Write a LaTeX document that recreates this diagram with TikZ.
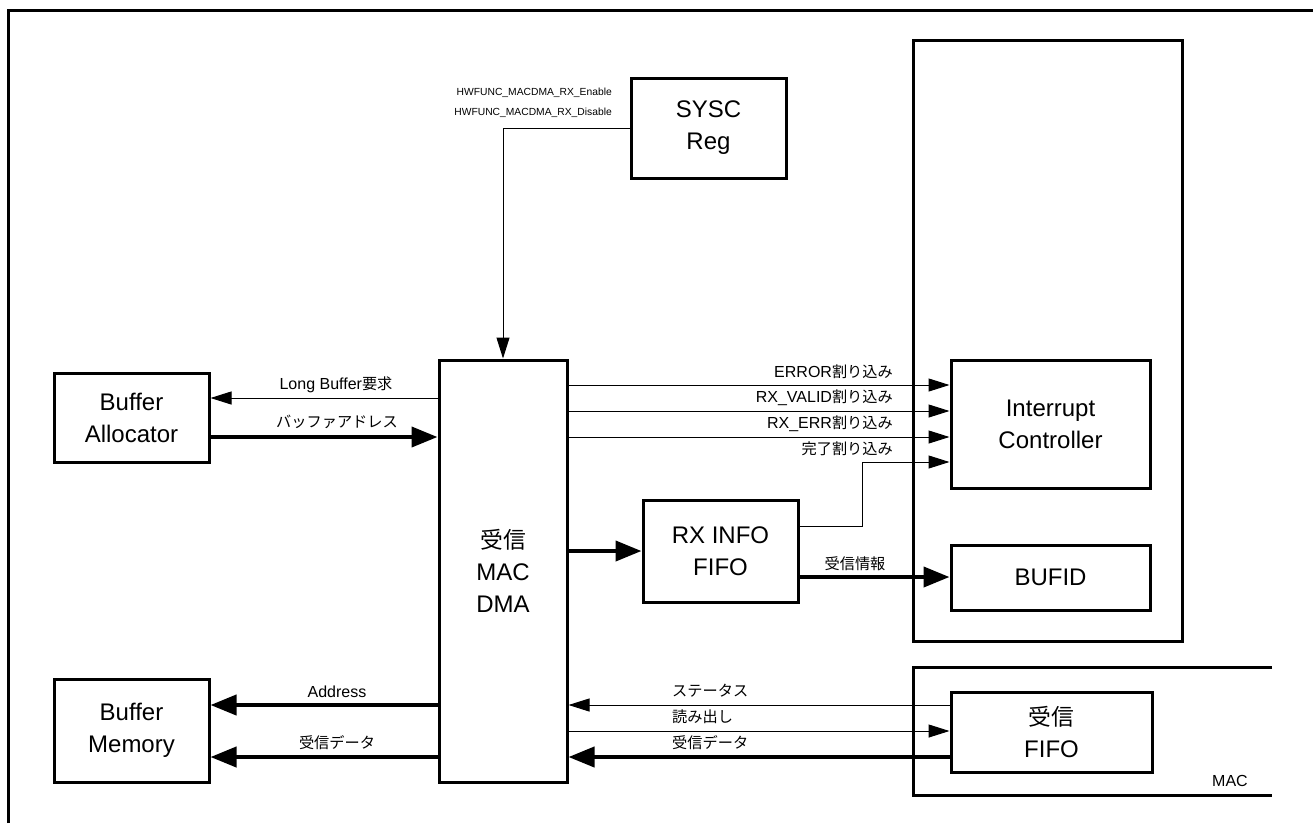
\documentclass[tikz,border=0pt]{standalone}
\usepackage{fontspec}
\setmainfont{Liberation Sans}
\newfontfamily\jp[Scale=0.95]{Noto Sans CJK JP}
\usetikzlibrary{arrows.meta}
\begin{document}
\begin{tikzpicture}[x=1pt,y=-1pt,
  box/.style={draw,line width=3pt,align=center,font=\fontsize{24}{32}\selectfont,inner sep=0pt},
  frame/.style={line width=3pt},
  thinar/.style={line width=1pt,-{Triangle[length=21pt,width=13pt]}},
  thickar/.style={line width=4pt,-{Triangle[length=26pt,width=20pt]}},
  lbl/.style={font=\fontsize{16}{19}\selectfont,inner sep=0pt},
  lblsm/.style={font=\fontsize{10.3}{13}\selectfont,inner sep=0pt},
]
\useasboundingbox (0,0) rectangle (1313,823);
% outer frame (left and top)
\draw[frame] (8,823) -- (8,10) -- (1313,10);

% container for interrupt controller / BUFID
\node[draw,frame,minimum width=269pt,minimum height=601pt,inner sep=0pt] (cont) at (1047.5,340.5) {};
% MAC region
\draw[frame] (1272,667) -- (913,667) -- (913,795) -- (1272,795);
\node[lbl,anchor=center] (maclbl) at (1230,781) {MAC};

% boxes
\node[box,minimum width=155pt,minimum height=100pt] (sysc) at (708.5,128) {SYSC\\Reg};
\node[box,minimum width=128pt,minimum height=422pt] (dma) at (503,571) {{\jp 受信}\\MAC\\DMA};
\node[box,minimum width=155pt,minimum height=89pt] (alloc) at (131.5,417.5) {Buffer\\Allocator};
\node[box,minimum width=155pt,minimum height=103pt] (mem) at (131.5,730.5) {Buffer\\Memory};
\node[box,minimum width=199pt,minimum height=128pt] (intc) at (1050.5,424) {Interrupt\\Controller};
\node[box,minimum width=199pt,minimum height=65pt] (bufid) at (1050.5,577.5) {BUFID};
\node[box,minimum width=155pt,minimum height=102pt] (rxinfo) at (720.5,551) {RX INFO\\FIFO};
\node[box,minimum width=201pt,minimum height=80pt] (fifo) at (1051.5,732) {{\jp 受信}\\FIFO};

% y levels
\coordinate (y398) at (0,398);
\coordinate (y437) at (0,437);
\coordinate (y705) at (0,705);
\coordinate (y731) at (0,731);
\coordinate (y757) at (0,757);
\coordinate (y385) at (0,385);
\coordinate (y411) at (0,411);
\coordinate (y437b) at (0,437);
\coordinate (y526) at (0,526);
\coordinate (y577) at (0,577);
\coordinate (k) at (862,462);

% SYSC -> DMA
\draw[thinar] (sysc.west) -| (dma.north);
\node[lblsm,anchor=east] (hw1) at (612,93) {HWFUNC\_MACDMA\_RX\_Enable};
\node[lblsm,anchor=east] (hw2) at (612,113) {HWFUNC\_MACDMA\_RX\_Disable};

% DMA <-> allocator
\draw[thinar] (dma.west |- y398) -- (alloc.east |- y398);
\node[lbl] at (336,385) {Long Buffer{\jp 要求}};
\draw[thickar] (alloc.east |- y437) -- (dma.west |- y437);
\node[lbl] at (337,422) {\jp バッファアドレス};

% DMA -> memory
\draw[thickar] (dma.west |- y705) -- (mem.east |- y705);
\node[lbl] at (337,692) {Address};
\draw[thickar] (dma.west |- y757) -- (mem.east |- y757);
\node[lbl] at (337,743) {\jp 受信データ};

% interrupts
\draw[thinar] (dma.east |- y385) -- (intc.west |- y385);
\node[lbl,anchor=east] at (893,372) {ERROR{\jp 割り込み}};
\draw[thinar] (dma.east |- y411) -- (intc.west |- y411);
\node[lbl,anchor=east] at (893,398) {RX\_VALID{\jp 割り込み}};
\draw[thinar] (dma.east |- y437b) -- (intc.west |- y437b);
\node[lbl,anchor=east] at (893,424) {RX\_ERR{\jp 割り込み}};
\draw[thinar] (rxinfo.east |- y526) -| (k) -- (intc.west |- k);
\node[lbl,anchor=east] at (893,449) {\jp 完了割り込み};

% DMA -> RX INFO, RX INFO -> BUFID
\draw[thickar] (dma.east |- rxinfo.west) -- (rxinfo.west);
\draw[thickar] (rxinfo.east |- y577) -- (bufid.west |- y577);
\node[lbl] at (855,564) {\jp 受信情報};

% FIFO <-> DMA
\draw[thinar] (fifo.west |- y705) -- (dma.east |- y705);
\node[lbl,anchor=west] at (672,691) {\jp ステータス};
\draw[thinar] (dma.east |- y731) -- (fifo.west |- y731);
\node[lbl,anchor=west] at (672,717) {\jp 読み出し};
\draw[thickar] (fifo.west |- y757) -- (dma.east |- y757);
\node[lbl,anchor=west] at (672,743) {\jp 受信データ};
\end{tikzpicture}
\end{document}
